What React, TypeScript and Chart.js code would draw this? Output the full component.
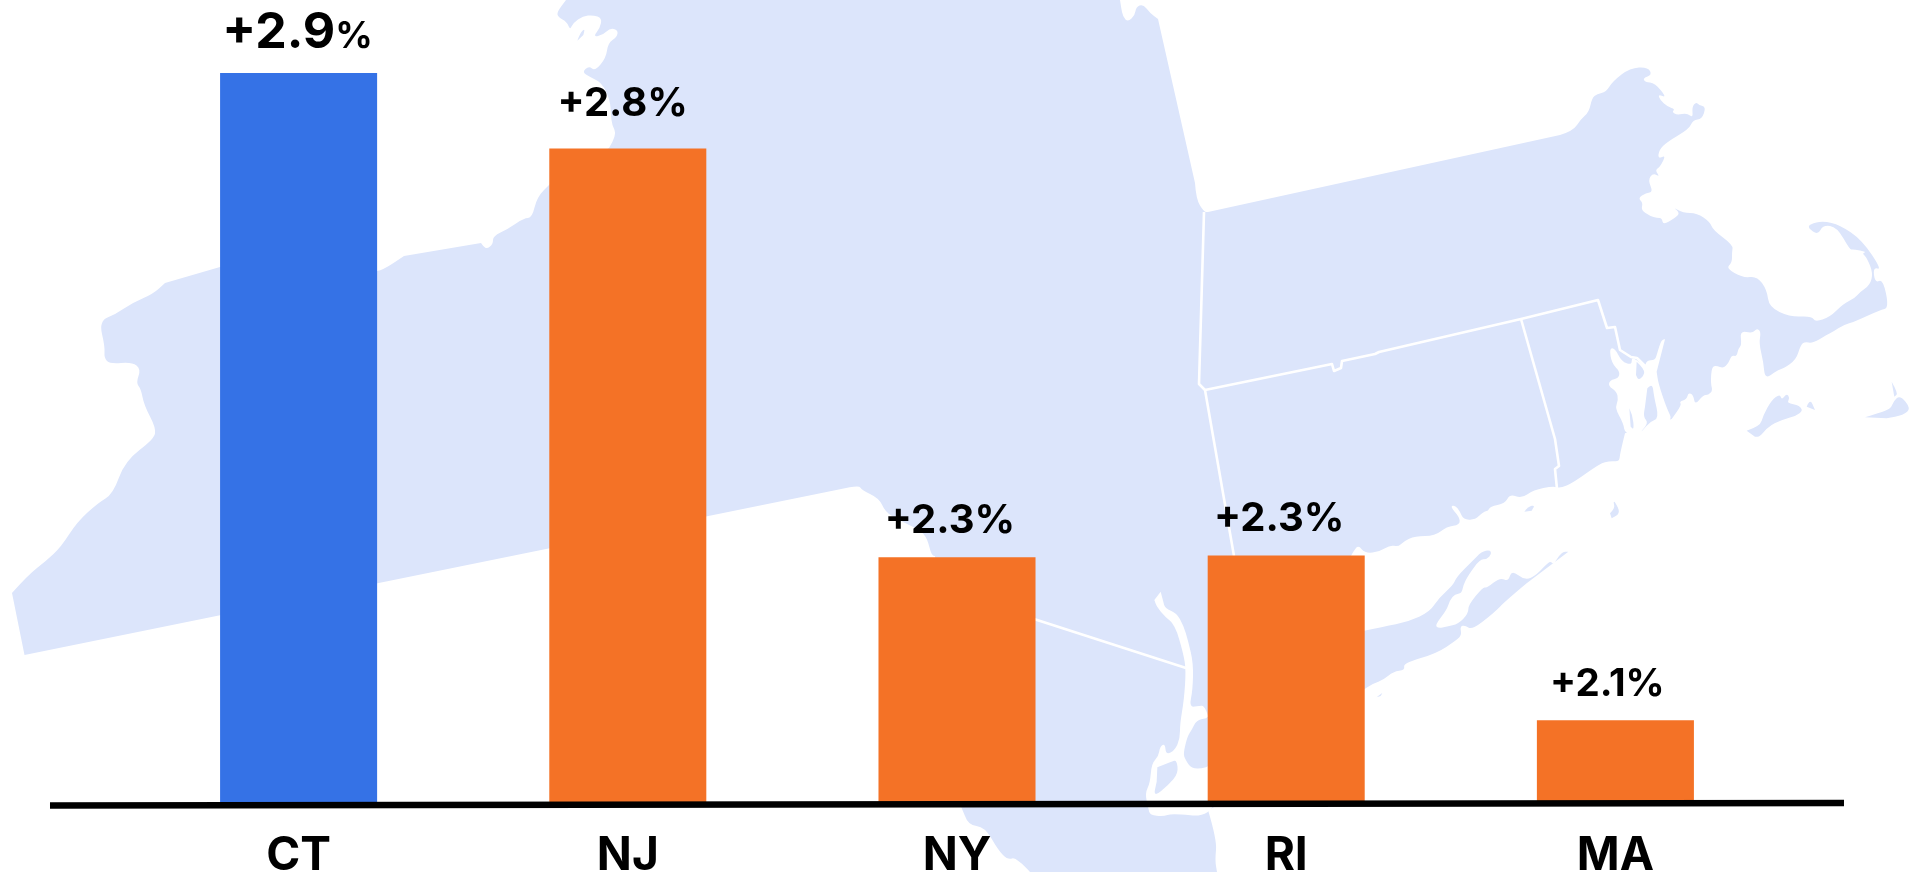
import React, { useEffect, useRef } from "react";
import { Chart, registerables } from "chart.js";

Chart.register(...registerables);

const categories = ["CT", "NJ", "NY", "RI", "MA"];
const growth = [2.9, 2.807, 2.303, 2.305, 2.102];
const valueLabels = ["+2.9", "+2.8", "+2.3", "+2.3", "+2.1"];
const barColors = ["#3572E6", "#F47226", "#F47226", "#F47226", "#F47226"];

const MAP_BLUE = "#DCE5FB";
type P = number[];
// decorative map outlines, pixel coordinates of the picture
const z = (x0: number, y0: number, pts: P[]) => pts.map(([x, y]) => [x0 + x / 3, y0 + y / 3]);

const mainland: P[] = [
  [24.5, 655], [12, 593], [28, 575], [46, 561], [61, 547], [77, 522], [98, 503], [113, 494], [125, 461], [154, 439], [156, 428], [144, 405], [141, 389], [136, 383], [141, 369], [132, 362], [110, 364], [104, 358], [105, 347], [99, 321], [116, 314], [132, 303], [153, 294], [165, 283], [220, 267], [377, 271], [383, 270], [404, 256], [481, 243], [483, 246], [487, 249], [493, 244], [493, 236], [508, 229], [524, 218], [532, 218], [537, 197], [551, 183], [609, 148], [617, 135], [612, 125], [611, 115], [610, 100], [602, 83], [590, 77], [582, 72], [589, 66], [595, 71], [606, 58], [608, 43], [617, 37], [618, 30], [610, 28], [603, 35], [593, 37], [600, 28], [602, 18], [593, 15], [583, 16], [573, 23], [570, 30], [567, 22], [558, 17], [557, 12], [566, 0],
  [1120, 0], [1121, 7], [1123, 17], [1128, 22], [1135, 15], [1136, 7], [1143, 4], [1150, 13], [1158, 19], [1195, 183], [1196, 199], [1204, 212], [1208, 212],
  [1560, 135], [1573, 131], [1581, 119], [1589, 112], [1592, 98], [1597, 94], [1606, 92], [1613, 81], [1630, 68], [1648, 67], [1652, 75], [1643, 78], [1645, 82], [1655, 83], [1667, 98], [1658, 94], [1660, 100], [1668, 107], [1675, 109], [1672, 112], [1677, 115], [1687, 113], [1693, 118], [1692, 107], [1696, 102], [1699, 105], [1706, 107], [1702, 119], [1693, 120], [1689, 129], [1667, 142], [1659, 150], [1658, 159], [1666, 155], [1660, 167], [1655, 170], [1660, 177], [1653, 173], [1648, 180], [1653, 192], [1646, 193], [1638, 198], [1643, 203], [1641, 210], [1650, 216], [1657, 218], [1662, 218], [1663, 225], [1675, 218], [1680, 213], [1673, 207], [1683, 213], [1697, 213], [1710, 222], [1713, 230], [1733, 245], [1732, 252], [1732, 263], [1726, 268], [1743, 278], [1757, 276], [1767, 290], [1769, 307], [1790, 317], [1812, 316], [1815, 322], [1830, 317], [1843, 304], [1855, 298], [1860, 292], [1870, 285], [1873, 273], [1867, 258], [1862, 253], [1867, 252], [1853, 249], [1850, 250], [1837, 227], [1823, 225], [1818, 235], [1808, 228], [1810, 224], [1823, 221], [1840, 225], [1862, 240], [1882, 270], [1873, 267], [1875, 283], [1883, 279], [1889, 308],
  ...z(1560, 300, [[960, 30], [885, 65], [850, 75], [820, 95], [800, 105], [757, 130], [735, 125], [722, 135], [708, 180], [670, 205], [650, 212], [615, 238], [610, 185], [597, 130], [603, 95], [590, 85], [578, 100], [540, 92], [545, 135], [535, 145], [530, 170], [515, 165], [505, 190], [490, 205], [470, 197], [455, 200], [452, 250], [458, 272], [445, 285], [430, 285], [405, 315], [400, 285], [385, 278], [380, 298], [358, 305], [365, 315], [335, 357], [195, 400], [180, 460], [178, 485], [150, 483], [120, 490], [40, 548], [0, 565]]),
  ...z(1340, 470, [[640, 48], [580, 60], [545, 85], [510, 72], [495, 100], [450, 110], [445, 122], [430, 125], [405, 150], [370, 148], [360, 125], [345, 105], [330, 110], [358, 140], [360, 165], [320, 170], [285, 198], [225, 198], [190, 215], [175, 230], [150, 225], [120, 245], [75, 250], [55, 225], [40, 245], [33, 258]]),
  [1300, 650], [1250, 790], [1208, 810], [1217, 840], [1215, 860], [1217, 872], [1030, 872], [1016, 857], [1008, 860], [998, 850], [985, 827], [968, 825], [962, 807], [950, 790], [935, 556],
  ...z(840, 470, [[275, 260], [262, 205], [240, 180], [175, 150], [135, 125], [118, 85], [65, 60], [58, 46], [0, 58]]),
];

const hudson: P[] = z(1100, 560, [[182, 95], [190, 125], [195, 145], [230, 160], [250, 195], [265, 245], [280, 310], [278, 390], [268, 440], [290, 440], [318, 435], [345, 560], [345, 725], [328, 772], [215, 760], [190, 770], [150, 765], [145, 745], [135, 700], [150, 670], [155, 610], [175, 590], [180, 560], [195, 550], [198, 585], [225, 570], [240, 535], [240, 490], [252, 420], [258, 330], [250, 280], [225, 195], [195, 170], [170, 140], [163, 120]]);
const narragansett: P[] = z(1560, 300, [[315, 118], [305, 115], [290, 165], [285, 180], [260, 182], [255, 200], [230, 180], [215, 172], [215, 195], [185, 185], [165, 145], [148, 145], [155, 190], [180, 215], [175, 235], [150, 240], [145, 258], [170, 275], [175, 300], [165, 325], [190, 370], [195, 402], [245, 402], [340, 365], [320, 325], [295, 250], [290, 215]]);
const water = [hudson, narragansett];

const islands: P[][] = [
  // Long Island
  [...z(1340, 470, [[69, 483], [130, 470], [205, 455], [270, 425], [295, 385], [340, 345], [350, 320], [395, 275], [425, 245], [450, 240], [455, 252], [440, 268], [420, 268], [385, 315], [370, 345], [365, 370], [345, 372], [330, 390], [320, 420], [285, 465], [295, 475], [320, 470], [355, 462], [385, 430], [385, 405], [430, 350], [440, 355], [480, 322], [505, 335], [515, 300], [555, 332], [590, 315], [630, 270], [640, 285], [665, 245], [685, 245], [560, 340], [500, 390], [460, 430], [395, 480], [375, 465], [360, 470], [365, 495], [350, 510], [290, 550], [190, 580], [195, 600], [160, 605], [130, 630], [100, 640], [69, 660]]),
   [1300, 715], ...z(1100, 560, [[318, 622], [278, 632], [255, 597], [250, 580], [262, 530], [275, 510], [290, 480], [318, 475]]), [1300, 640]],
  z(1100, 560, [[172, 622], [215, 605], [230, 600], [235, 640], [205, 675], [160, 712], [170, 665]]),
  z(1560, 300, [[560, 392], [600, 380], [610, 345], [635, 300], [660, 282], [665, 300], [680, 280], [690, 295], [680, 310], [720, 315], [730, 340], [650, 365], [620, 385], [600, 410], [585, 410]]),
  z(1560, 300, [[740, 320], [750, 295], [765, 330]]),
  z(1560, 300, [[915, 352], [980, 333], [995, 320], [1000, 305], [1020, 285], [1053, 325], [1030, 345], [980, 355]]),
  z(1560, 300, [[995, 245], [1015, 280], [1003, 290]]),
  z(1560, 300, [[150, 640], [165, 625], [160, 605], [165, 605], [182, 640], [155, 655]]),
  z(1340, 470, [[553, 125], [565, 110], [585, 105], [575, 122]]),
  z(1340, 470, [[110, 682], [130, 665], [122, 678]]),
  z(1560, 300, [[230, 185], [255, 208], [250, 230], [235, 240], [228, 225]]),
  z(1560, 300, [[262, 265], [277, 248], [282, 290], [297, 355], [270, 365], [247, 392], [243, 395], [265, 368], [250, 350], [255, 320]]),
  z(1560, 300, [[208, 325], [218, 345], [222, 390], [212, 380]]),
  z(530, 0, [[142, 122], [150, 100], [165, 85], [160, 105]]),
];

const borders: P[][] = [
  [[1204, 212], [1199, 384], [1205, 390], [1234, 556]],
  [[1205, 390], [1332, 364], [1334, 371], [1341, 368], [1342, 361], [1375, 354], [1379, 352], [1521, 319], [1598, 300], [1607, 328], [1615, 327], [1620, 350], [1631, 357], [1637, 358], [1646, 367]],
  [[1521, 319], [1555, 439], [1559, 466], [1555, 469], [1557, 489]],
  [[1034, 619], [1186, 668]],
];

const trace = (ctx: CanvasRenderingContext2D, pts: P[]) => {
  ctx.beginPath();
  pts.forEach(([x, y], i) => (i ? ctx.lineTo(x, y) : ctx.moveTo(x, y)));
};

// coast outlines: short segments are rounded, long straight edges stay sharp
const traceSmooth = (ctx: CanvasRenderingContext2D, pts: P[]) => {
  const near = (a: P, b: P) => Math.hypot(a[0] - b[0], a[1] - b[1]) < 45;
  ctx.beginPath();
  ctx.moveTo(pts[0][0], pts[0][1]);
  for (let i = 1; i < pts.length - 1; i++) {
    const [p, c, n] = [pts[i - 1], pts[i], pts[i + 1]];
    if (near(p, c) && near(c, n)) {
      ctx.quadraticCurveTo(c[0], c[1], (c[0] + n[0]) / 2, (c[1] + n[1]) / 2);
    } else {
      ctx.lineTo(c[0], c[1]);
    }
  }
  const last = pts[pts.length - 1];
  ctx.lineTo(last[0], last[1]);
  ctx.closePath();
};

const mapPlugin = {
  id: "mapBackground",
  beforeDraw(chart: Chart) {
    const { ctx } = chart;
    ctx.save();
    ctx.fillStyle = MAP_BLUE;
    traceSmooth(ctx, mainland);
    ctx.fill();
    ctx.fillStyle = "#FFFFFF";
    water.forEach((w) => {
      traceSmooth(ctx, w);
      ctx.fill();
    });
    ctx.fillStyle = MAP_BLUE;
    islands.forEach((w) => {
      traceSmooth(ctx, w);
      ctx.fill();
    });
    ctx.strokeStyle = "#FFFFFF";
    ctx.lineWidth = 2.6;
    ctx.lineJoin = "round";
    borders.forEach((b) => {
      trace(ctx, b);
      ctx.stroke();
    });
    ctx.restore();
  },
};

const FONT = "Inter, 'Noto Sans', sans-serif";
const labelShift = [-1, -5, -7, -7, -8];
const labelGap = [25, 32, 24, 25, 24];
const labelSize = [50, 40, 40, 40, 38.5];
const percentSize = [37, 40, 40, 40, 38.5];

const overlayPlugin = {
  id: "axisAndLabels",
  afterDatasetsDraw(chart: Chart) {
    const { ctx } = chart;
    ctx.save();
    ctx.strokeStyle = "#000000";
    ctx.lineWidth = 6.4;
    ctx.beginPath();
    ctx.moveTo(50, chart.chartArea.bottom + 2.5);
    ctx.lineTo(1844, chart.chartArea.bottom);
    ctx.stroke();
    ctx.fillStyle = "#000000";
    ctx.textBaseline = "alphabetic";
    ctx.textAlign = "left";
    chart.getDatasetMeta(0).data.forEach((bar: any, i: number) => {
      const main = `700 ${labelSize[i]}px ${FONT}`;
      const pct = `700 ${percentSize[i]}px ${FONT}`;
      ctx.font = main;
      const w1 = ctx.measureText(valueLabels[i]).width;
      ctx.font = pct;
      const w2 = ctx.measureText("%").width;
      const x = bar.x + labelShift[i] - (w1 + w2) / 2;
      const y = bar.y - labelGap[i];
      ctx.font = main;
      ctx.fillText(valueLabels[i], x, y);
      ctx.font = pct;
      ctx.fillText("%", x + w1, y);
    });
    ctx.restore();
  },
};

export default function App() {
  const ref = useRef<HTMLCanvasElement>(null);
  useEffect(() => {
    const chart = new Chart(ref.current!, {
      type: "bar",
      data: {
        labels: categories,
        datasets: [
          {
            data: growth,
            backgroundColor: barColors,
            barPercentage: 0.477,
            categoryPercentage: 1,
          },
        ],
      },
      options: {
        animation: false,
        responsive: false,
        layout: { padding: { left: 134, right: 136, top: 73, bottom: 0 } },
        plugins: { legend: { display: false }, tooltip: { enabled: false } },
        scales: {
          x: {
            grid: { display: false },
            border: { display: false },
            afterFit: (s: any) => {
              s.height = 69;
            },
            ticks: {
              color: "#000000",
              padding: 22,
              maxRotation: 0,
              autoSkip: false,
              font: { family: FONT, size: 46, weight: "700", lineHeight: 1 },
            },
          },
          y: { display: false, min: 2, max: 2.9 },
        },
      },
      plugins: [mapPlugin, overlayPlugin],
    } as any);
    return () => chart.destroy();
  }, []);
  return (
    <div style={{ position: "fixed", left: 0, top: 0, width: 1916, height: 872, background: "#fff" }}>
      <canvas ref={ref} width={1916} height={872} style={{ display: "block" }} />
    </div>
  );
}
